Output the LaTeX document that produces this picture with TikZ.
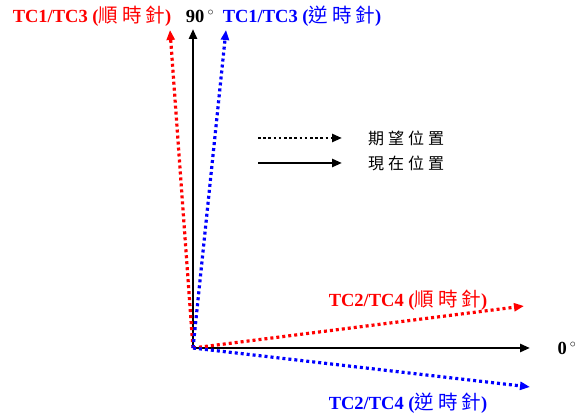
\documentclass[tikz,border=0pt]{standalone}
\usepackage{fontspec}
\setmainfont{Liberation Serif}
\newfontfamily\cjk{Noto Sans CJK TC}
\usetikzlibrary{arrows.meta}
\definecolor{myred}{RGB}{255,0,0}
\definecolor{myblue}{RGB}{0,0,255}
\newcommand{\cjkw}[3]{{\cjk\mdseries\fontsize{19.5}{21}\selectfont #1\hspace{4pt}#2\hspace{4pt}#3}}
\tikzset{
  solidarrow/.style={line width=2.6pt,-{Triangle[length=10pt,width=8pt]}},
  dotarrow/.style={line width=3.2pt,dash pattern=on 3pt off 3pt,-{Triangle[length=10pt,width=8pt]}},
  lbl/.style={inner sep=0pt,font=\fontsize{18.5}{21}\selectfont\bfseries},
  legendtxt/.style={inner sep=0pt,anchor=west,font=\fontsize{16}{18}\selectfont\cjk},
}
\begin{document}
\begin{tikzpicture}[x=1pt,y=-1pt]
\useasboundingbox (0,0) rectangle (579,419);
\fill[white] (0,0) rectangle (579,419);
\coordinate (O) at (193,348);
\coordinate (up) at (193,29);
\coordinate (upr) at (170,30);
\coordinate (upb) at (226,30);
\coordinate (rt) at (530,348);
\coordinate (rtr) at (524,306);
\coordinate (rtb) at (530,387);
\draw[solidarrow,black] (O) -- (up);
\draw[solidarrow,black] (O) -- (rt);
\draw[dotarrow,myred] (O) -- (upr);
\draw[dotarrow,myblue] (O) -- (upb);
\draw[dotarrow,myred] (O) -- (rtr);
\draw[dotarrow,myblue] (O) -- (rtb);
\node[lbl,myred] (l1) at (92,16) {TC1/TC3 (\cjkw{順}{時}{針})};
\node[lbl] (l90) at (200,16) {90\,$^\circ$};
\node[lbl,myblue] (l2) at (302,16) {TC1/TC3 (\cjkw{逆}{時}{針})};
\node[lbl,myred] (l3) at (408,300) {TC2/TC4 (\cjkw{順}{時}{針})};
\node[lbl] (l0) at (567,348) {0\,$^\circ$};
\node[lbl,myblue] (l4) at (408,403) {TC2/TC4 (\cjkw{逆}{時}{針})};
\coordinate (la1) at (258,138);
\coordinate (lb1) at (342,138);
\coordinate (la2) at (258,163);
\coordinate (lb2) at (342,163);
\draw[dotarrow,black,line width=2.8pt,dash pattern=on 2.6pt off 2.6pt] (la1) -- (lb1);
\draw[solidarrow,black] (la2) -- (lb2);
\node[legendtxt] (t1) at (368,138) {期\hspace{4pt}望\hspace{4pt}位\hspace{4pt}置};
\node[legendtxt] (t2) at (368,163) {現\hspace{4pt}在\hspace{4pt}位\hspace{4pt}置};
\end{tikzpicture}
\end{document}
